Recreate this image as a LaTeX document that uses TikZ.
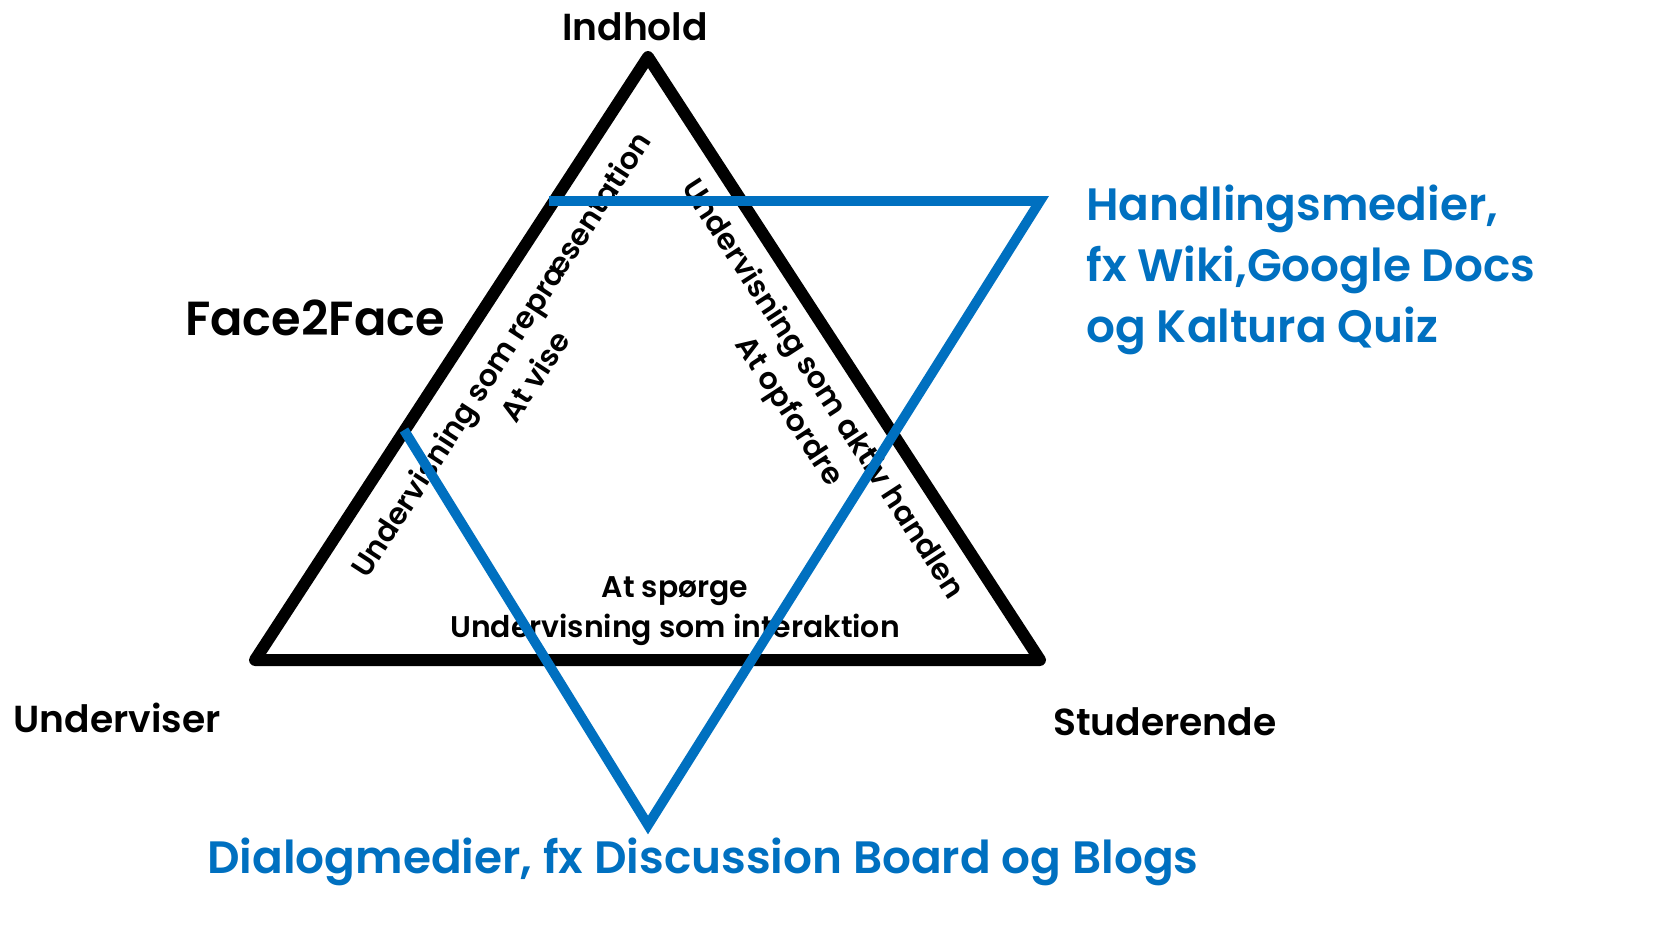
\documentclass[tikz,border=0pt]{standalone}
\usepackage{fontspec}
\setmainfont{Poppins}[UprightFont=* SemiBold, BoldFont=* Bold]
\usepackage{xcolor}
\usepackage{tikz}
\usetikzlibrary{positioning,fit,calc}
\definecolor{medieblaa}{RGB}{0,112,192}

\begin{document}
\begin{tikzpicture}[x=0.01cm,y=-0.01cm]

\tikzstyle{hjorne}=[font=\fontsize{10.7}{13}\selectfont, text=black]
\tikzstyle{stor}=[font=\fontsize{13.6}{16}\selectfont, text=black]
\tikzstyle{medie}=[font=\fontsize{12.9}{17.3}\selectfont, text=medieblaa]
\tikzstyle{side}=[font=\fontsize{8.5}{11.5}\selectfont, align=center, text=black]
\tikzstyle{trekant}=[line width=3.4pt, draw=black, line join=round]
\tikzstyle{stjerne}=[line width=2.8pt, draw=medieblaa]

\useasboundingbox (0,0) rectangle (1676,947);

%hjoerner
\coordinate (top) at (648,57);
\coordinate (venstre) at (255,660);
\coordinate (hoejre) at (1040,660);
\coordinate (a) at (549,201);
\coordinate (b) at (1040,201);
\coordinate (c) at (648,825);
\coordinate (d) at (404,430);

%tekster
\node[hjorne] (indhold) at (635,27) {Indhold};
\node[stor] (face) at (315,318) {Face2Face};
\node[hjorne] (underviser) at (117,718) {Underviser};
\node[hjorne] (studerende) at (1165,722) {Studerende};
\node[medie, anchor=west, align=left] (handling) at (1074,270) {Handlingsmedier,\\fx Wiki,Google Docs\\og Kaltura Quiz};
\node[medie] (dialog) at (703,862) {Dialogmedier, fx Discussion Board og Blogs};
\node[side, rotate=57] (repr) at (517,365) {Undervisning som repræsentation\\At vise};
\node[side, rotate=-57] (aktiv) at (805,401) {Undervisning som aktiv handlen\\At opfordre};
\node[side] (inter) at (675,611) {At spørge\\Undervisning som interaktion};

%linjer
\draw[trekant] (top) -- (venstre) -- (hoejre) -- cycle;
\draw[stjerne] (a) -- (b) -- (c) -- (d);
\end{tikzpicture}
\end{document}
